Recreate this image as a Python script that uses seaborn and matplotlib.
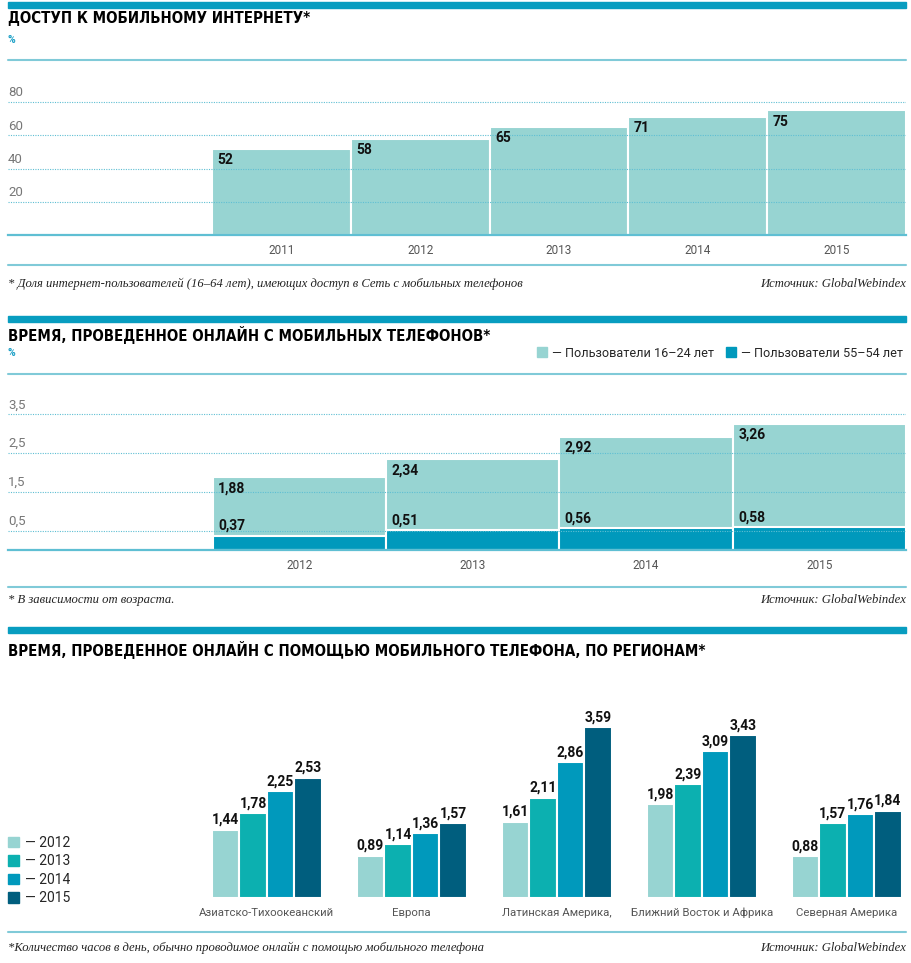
import matplotlib
matplotlib.use('Agg')
import matplotlib.pyplot as plt
import seaborn as sns
import pandas as pd
from matplotlib.patches import Patch, Rectangle
from matplotlib.lines import Line2D

# ---- data ----
access_years = ['2011', '2012', '2013', '2014', '2015']
access_values = [52, 58, 65, 71, 75]

time_years = ['2012', '2013', '2014', '2015']
time_young = [1.88, 2.34, 2.92, 3.26]
time_old = [0.37, 0.51, 0.56, 0.58]

regions = ['Азиатско-Тихоокеанский', 'Европа', 'Латинская Америка,',
           'Ближний Восток и Африка', 'Северная Америка']
region_years = ['2012', '2013', '2014', '2015']
region_2012 = [1.44, 0.89, 1.61, 1.98, 0.88]
region_2013 = [1.78, 1.14, 2.11, 2.39, 1.57]
region_2014 = [2.25, 1.36, 2.86, 3.09, 1.76]
region_2015 = [2.53, 1.57, 3.59, 3.43, 1.84]

LIGHT = '#97d4d2'
TEAL = '#0cb0b0'
BLUE = '#0099bc'
DARK = '#005e7e'
BAND = '#089dc0'
RULE = '#80cad8'
GRID = '#5fbfd3'

W, H = 912, 963

sns.set_theme(style='white')
plt.rcParams['font.family'] = ['Roboto', 'DejaVu Sans']

fig = plt.figure(figsize=(W / 100, H / 100), dpi=100)


def fx(x):
    return x / W


def fy(y):
    return 1 - y / H


def make_axes(top, bottom):
    return fig.add_axes([fx(8), fy(bottom), (906 - 8) / W, (bottom - top) / H])


def rule(y, lw=1.5):
    fig.add_artist(Line2D([fx(8), fx(906)], [fy(y), fy(y)], color=RULE, lw=lw))


def band(y):
    fig.add_artist(Rectangle((fx(8), fy(y + 6)), (906 - 8) / W, 6 / H,
                             color=BAND, transform=fig.transFigure))


def title(y, txt):
    fig.text(fx(8), fy(y), txt, family=['DejaVu Sans'], fontstretch='condensed',
             fontweight='heavy', fontsize=10.8, va='center', ha='left', color='#000')


def footnote(y, left, right):
    fig.text(fx(8), fy(y), left, family=['Liberation Serif', 'DejaVu Serif'],
             style='italic', fontsize=9.1, va='center', ha='left', color='#222')
    fig.text(fx(906), fy(y), right, family=['Liberation Serif', 'DejaVu Serif'],
             style='italic', fontsize=9.1, va='center', ha='right', color='#222')


def percent(y):
    fig.text(fx(8), fy(y), '%', fontsize=7.5, fontweight='bold', color='#1a9fc6',
             va='center', ha='left')


def grid_axes(ax, ticks, labels):
    ax.set_yticks(ticks)
    ax.set_yticklabels([])
    ax.tick_params(axis='y', length=0)
    ax.grid(axis='y', color=GRID, linestyle=(0, (1, 1.2)), linewidth=0.8)
    ax.set_axisbelow(False)
    for t, lab in zip(ticks, labels):
        ax.annotate(lab, (0, t), xycoords=('axes fraction', 'data'),
                    xytext=(0, 2), textcoords='offset points',
                    fontsize=9.5, color='#777',
                    ha='left', va='bottom')
    for s in ['top', 'left', 'right']:
        ax.spines[s].set_visible(False)
    ax.spines['bottom'].set_color(GRID)
    ax.spines['bottom'].set_linewidth(1.6)
    ax.tick_params(axis='x', length=0, pad=6.5, labelsize=8.5, labelcolor='#555')
    ax.set_xlabel('')
    ax.set_ylabel('')


def comma(v):
    return f'{v:.2f}'.replace('.', ',')


# ---- panel 1 ----
band(2)
title(18, 'ДОСТУП К МОБИЛЬНОМУ ИНТЕРНЕТУ*')
percent(40)
rule(60)

ax1 = make_axes(80, 235)
df1 = pd.DataFrame({'year': access_years, 'value': access_values})
sns.barplot(data=df1, x='year', y='value', color=LIGHT, saturation=1, width=1,
            edgecolor='white', linewidth=1.5, ax=ax1)
ax1.set_xlim(-1.97, 4.5)
ax1.set_ylim(0, 155 / 1.66)
grid_axes(ax1, [20, 40, 60, 80], ['20', '40', '60', '80'])
for p, v in zip(ax1.patches, access_values):
    ax1.annotate(str(v), (p.get_x(), p.get_height()), xytext=(4, -3),
                 textcoords='offset points', ha='left', va='top',
                 fontsize=10, fontweight='bold', color='#111', zorder=5)

rule(265)
footnote(284, '* Доля интернет-пользователей (16–64 лет), имеющих доступ в Сеть с мобильных телефонов',
         'Источник: GlobalWebindex')

# ---- panel 2 ----
band(316)
title(335, 'ВРЕМЯ, ПРОВЕДЕННОЕ ОНЛАЙН С МОБИЛЬНЫХ ТЕЛЕФОНОВ*')
percent(353)
rule(374)

ax2 = make_axes(395, 550)
df2 = pd.DataFrame({'year': time_years, 'young': time_young, 'old': time_old})
sns.barplot(data=df2, x='year', y='young', color=LIGHT, saturation=1, width=1,
            edgecolor='white', linewidth=1.5, ax=ax2)
sns.barplot(data=df2, x='year', y='old', color=BLUE, saturation=1, width=1,
            edgecolor='white', linewidth=1.5, ax=ax2)
ax2.set_xlim(-1.68, 3.5)
ax2.set_ylim(0, 155 / 38.8)
grid_axes(ax2, [0.5, 1.5, 2.5, 3.5], ['0,5', '1,5', '2,5', '3,5'])
n = len(time_years)
for p, v in zip(ax2.patches[:n], time_young):
    ax2.annotate(comma(v), (p.get_x(), p.get_height()), xytext=(4, -3),
                 textcoords='offset points', ha='left', va='top',
                 fontsize=10, fontweight='bold', color='#111', zorder=5)
for p, v in zip(ax2.patches[n:], time_old):
    ax2.annotate(comma(v), (p.get_x(), p.get_height()), xytext=(4, 2),
                 textcoords='offset points', ha='left', va='bottom',
                 fontsize=10, fontweight='bold', color='#111', zorder=5)

fig.legend(handles=[Patch(color=LIGHT, label='— Пользователи 16–24 лет'),
                    Patch(color=BLUE, label='— Пользователи 55–54 лет')],
           loc='center right', bbox_to_anchor=(fx(903), fy(353)), ncol=2,
           frameon=False, fontsize=9.1, handlelength=0.8, handleheight=0.8,
           handletextpad=0.4, columnspacing=0.9, borderpad=0, borderaxespad=0)

rule(587)
footnote(600, '* В зависимости от возраста.', 'Источник: GlobalWebindex')

# ---- panel 3 ----
band(627)
title(650, 'ВРЕМЯ, ПРОВЕДЕННОЕ ОНЛАЙН С ПОМОЩЬЮ МОБИЛЬНОГО ТЕЛЕФОНА, ПО РЕГИОНАМ*')

ax3 = make_axes(700, 898)
rows = []
for yr, vals in zip(region_years, [region_2012, region_2013, region_2014, region_2015]):
    for r, v in zip(regions, vals):
        rows.append([r, yr, v])
df3 = pd.DataFrame(rows, columns=['region', 'year', 'value'])
palette = [LIGHT, TEAL, BLUE, DARK]
sns.barplot(data=df3, x='region', y='value', hue='year', palette=palette,
            saturation=1, width=0.76, edgecolor='white', linewidth=1.5,
            legend=False, ax=ax3)
ax3.set_xlim(-1.786, 4.41)
ax3.set_ylim(0, 198 / 47.5)
for c in ax3.containers:
    ax3.bar_label(c, labels=[comma(v) for v in c.datavalues], padding=2,
                  fontsize=10, fontweight='bold', color='#111')
sns.despine(ax=ax3, left=True, bottom=True)
ax3.set_yticks([])
ax3.tick_params(axis='x', length=0, pad=7, labelsize=8.2, labelcolor='#555')
ax3.set_xlabel('')
ax3.set_ylabel('')

fig.legend(handles=[Patch(color=col, label='— ' + yr) for col, yr in zip(palette, region_years)],
           loc='upper left', bbox_to_anchor=(fx(8), fy(836)), ncol=1,
           frameon=False, fontsize=10, handlelength=0.8, handleheight=0.8,
           handletextpad=0.4, labelspacing=0.32, borderpad=0, borderaxespad=0)

rule(932)
footnote(948, '*Количество часов в день, обычно проводимое онлайн с помощью мобильного телефона',
         'Источник: GlobalWebindex')

fig.savefig('out.png', dpi=100)
